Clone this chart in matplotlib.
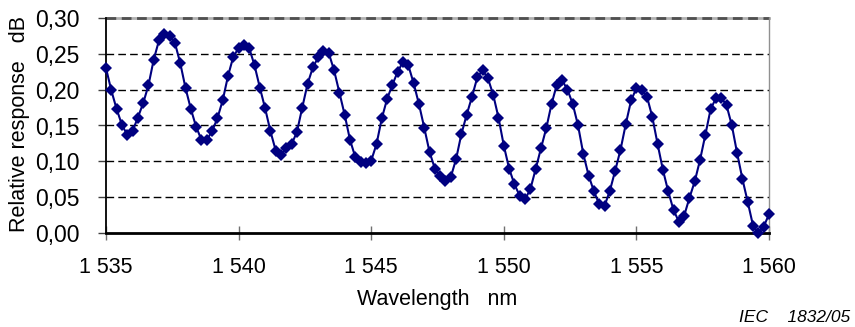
import numpy as np
import matplotlib
matplotlib.use("Agg")
import matplotlib.pyplot as plt

plt.rcParams['font.family'] = ['Liberation Sans', 'DejaVu Sans']

# Sampling grid (nm), step 0.2 nm
wavelength = np.linspace(1535.0, 1560.0, 126)

response = [
    0.230, 0.199, 0.173, 0.151, 0.137, 0.142, 0.161, 0.181, 0.206, 0.242,
    0.269, 0.277, 0.275, 0.265, 0.237, 0.202, 0.173, 0.148, 0.130, 0.130,
    0.142, 0.160, 0.185, 0.219, 0.246, 0.258, 0.263, 0.258, 0.234, 0.203,
    0.174, 0.142, 0.115, 0.109, 0.118, 0.124, 0.141, 0.175, 0.208, 0.231,
    0.245, 0.254, 0.251, 0.227, 0.196, 0.165, 0.130, 0.106, 0.099, 0.097,
    0.101, 0.124, 0.160, 0.187, 0.207, 0.225, 0.239, 0.234, 0.209, 0.180,
    0.147, 0.113, 0.090, 0.079, 0.073, 0.078, 0.103, 0.138, 0.165, 0.190,
    0.217, 0.227, 0.216, 0.193, 0.161, 0.122, 0.090, 0.068, 0.052, 0.047,
    0.061, 0.089, 0.118, 0.146, 0.180, 0.207, 0.213, 0.200, 0.180, 0.150,
    0.110, 0.080, 0.058, 0.040, 0.038, 0.059, 0.087, 0.116, 0.152, 0.185,
    0.202, 0.200, 0.190, 0.162, 0.124, 0.088, 0.058, 0.032, 0.016, 0.024,
    0.049, 0.072, 0.102, 0.137, 0.173, 0.188, 0.189, 0.178, 0.150, 0.111,
    0.075, 0.043, 0.010, 0.000, 0.009, 0.026,
]

x_ticks = [1535, 1540, 1545, 1550, 1555, 1560]
x_tick_labels = ["1 535", "1 540", "1 545", "1 550", "1 555", "1 560"]
y_ticks = [0.00, 0.05, 0.10, 0.15, 0.20, 0.25, 0.30]
y_tick_labels = ["0,00", "0,05", "0,10", "0,15", "0,20", "0,25", "0,30"]

fig = plt.figure(figsize=(8.55, 3.27), dpi=100)
ax = fig.add_axes([106/855, 1 - 233/327, (769-106)/855, (233-18)/327])

ax.plot(wavelength, response, color='#000080', lw=1.5, marker='D',
        markersize=6.5, markeredgewidth=0, clip_on=False, zorder=3)

ax.set_xlim(1535, 1560)
ax.set_ylim(0, 0.30)
ax.set_xticks(x_ticks)
ax.set_xticklabels(x_tick_labels, fontsize=15.5)
ax.set_yticks(y_ticks)
ax.set_yticklabels(y_tick_labels, fontsize=16.5)

for y in y_ticks[1:-1]:
    ax.axhline(y, color='black', lw=1.0, dashes=(5.5, 3), zorder=1)
# top boundary: light grey line with darker dashes
ax.axhline(y_ticks[-1], color='#b0b0b0', lw=2.0, zorder=1, clip_on=False)
ax.axhline(y_ticks[-1], color='#505050', lw=2.0, dashes=(3.5, 2),
           zorder=1, clip_on=False)

ax.spines['top'].set_visible(False)
ax.spines['right'].set_color('#909090')
ax.spines['right'].set_linewidth(1.0)
ax.spines['left'].set_linewidth(1.3)
ax.spines['bottom'].set_linewidth(2.0)

ax.tick_params(axis='x', direction='inout', length=10, width=1.0,
               color='#707070', pad=12)
ax.tick_params(axis='y', direction='out', length=6, width=1.0,
               color='#404040', pad=13)

fig.text(19.5/855, 1 - 124/327, "Relative response   dB", rotation=90,
         ha='center', va='center', fontsize=15.5)
fig.text(437.5/855, 1 - 300/327, "Wavelength   nm", ha='center',
         va='center', fontsize=15.5)
fig.text(850/855, 1 - 318/327, "IEC    1832/05", ha='right', va='center',
         fontsize=12.5, style='italic')

fig.savefig("out.png", dpi=100)
